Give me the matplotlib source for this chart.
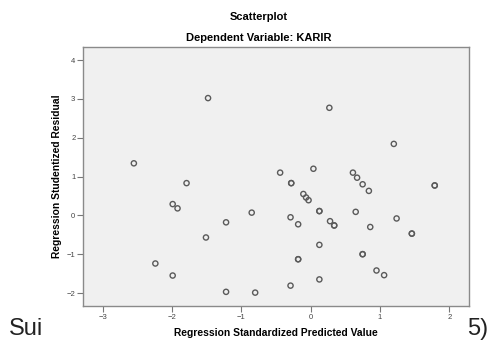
import matplotlib
matplotlib.use('Agg')
import matplotlib.pyplot as plt

# standardized predicted value vs studentized residual
pred = [-2.55, -1.48, -1.79, -1.99, -1.92, -1.22, -1.51, -2.24, -1.99, -1.22,
        -0.85, -0.80, -0.44, -0.29, -0.29, -0.28, -0.28, -0.18, -0.18, -0.18,
        -0.105, -0.066, -0.03, 0.04, 0.126, 0.126, 0.126, 0.126, 0.27, 0.28,
        0.34, 0.34, 0.61, 0.65, 0.67, 0.75, 0.75, 0.75, 0.84, 0.86,
        0.95, 1.06, 1.20, 1.24, 1.46, 1.46, 1.79, 1.79]
resid = [1.34, 3.02, 0.83, 0.29, 0.18, -0.18, -0.57, -1.24, -1.55, -1.97,
         0.07, -1.99, 1.10, -0.05, -1.81, 0.83, 0.83, -0.23, -1.13, -1.13,
         0.55, 0.46, 0.39, 1.20, 0.11, 0.11, -0.76, -1.65, 2.77, -0.15,
         -0.26, -0.26, 1.10, 0.09, 0.97, 0.80, -1.00, -1.00, 0.63, -0.30,
         -1.42, -1.54, 1.84, -0.08, -0.47, -0.47, 0.77, 0.77]

x_ticks = [-3, -2, -1, 0, 1, 2]
y_ticks = [-2, -1, 0, 1, 2, 3, 4]

plt.rcParams['font.family'] = ['Liberation Sans', 'DejaVu Sans']

fig = plt.figure(figsize=(4.96, 3.45), dpi=100)
ax = fig.add_axes([0.1673, 0.1130, 0.7782, 0.7507])
ax.set_facecolor('#f0f0f0')

ax.scatter(pred, resid, s=14, facecolors='none', edgecolors='#5a5a5a', linewidths=1.0)

ax.set_xlim(-3.284, 2.284)
ax.set_ylim(-2.335, 4.335)
ax.set_xticks(x_ticks)
ax.set_yticks(y_ticks)
ax.tick_params(direction='out', length=4, width=0.8, colors='#777777',
               labelsize=5.5, labelcolor='#444444', pad=1.5)
for sp in ax.spines.values():
    sp.set_color('#8a8a8a')
    sp.set_linewidth(1.0)

ax.set_xlabel('Regression Standardized Predicted Value', fontsize=7.4, fontweight='bold', labelpad=5)
ax.set_ylabel('Regression Studentized Residual', fontsize=7.4, fontweight='bold', labelpad=3)

fig.text(0.521, 1 - 17 / 345, 'Scatterplot', ha='center', va='center', fontsize=8, fontweight='bold')
fig.text(0.521, 1 - 38 / 345, 'Dependent Variable: KARIR', ha='center', va='center',
         fontsize=8, fontweight='bold')

# fragments of the surrounding page text
fig.text(9 / 496, 1 - 329 / 345, 'Sui', ha='left', va='center', fontsize=17, color='#222222')
fig.text(467 / 496, 1 - 329 / 345, '5)', ha='left', va='center', fontsize=17, color='#222222')

fig.savefig('out.png', dpi=100)
